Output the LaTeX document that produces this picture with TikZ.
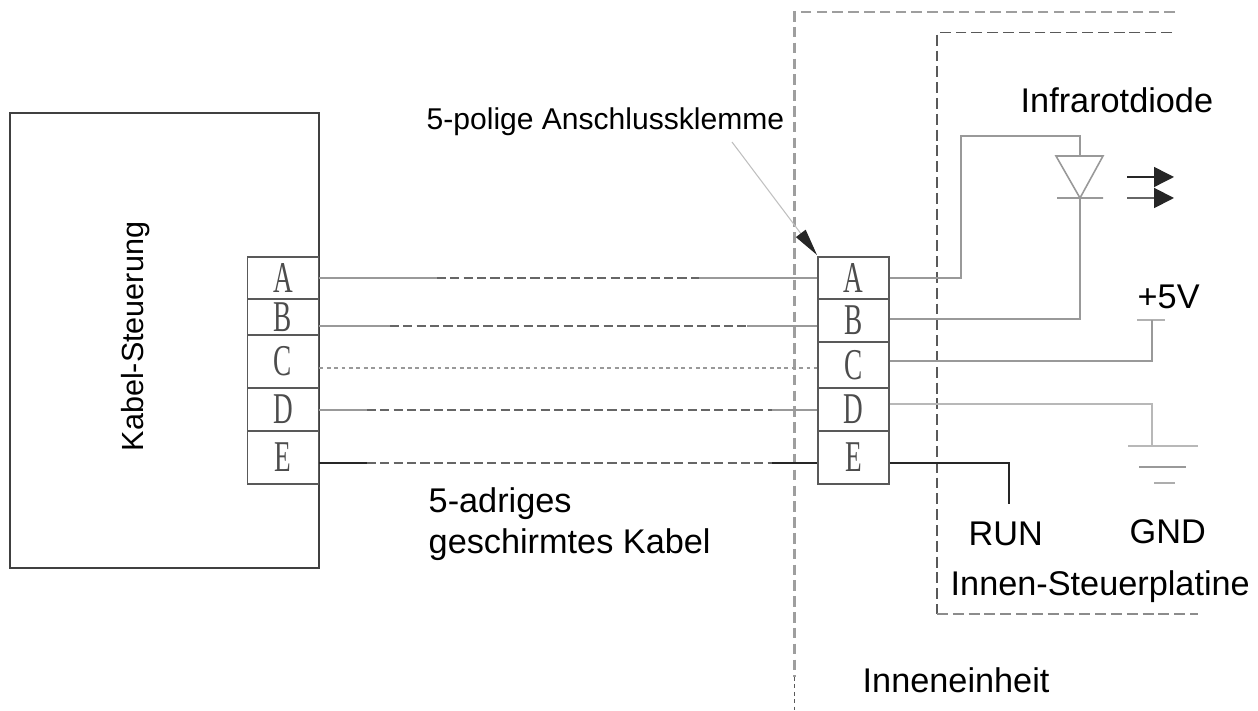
\documentclass[tikz,border=0pt]{standalone}
\usepackage{fontspec}
\setmainfont{Liberation Sans}
\newfontfamily\pinfont[FakeStretch=0.62]{Liberation Serif}
\usetikzlibrary{
    arrows.meta,
    calc,
    positioning
}
\tikzset{
    wire/.style={draw=black!40, line width=.45pt},
    darkwire/.style={draw=black!85, line width=.55pt},
    longdash/.style={draw=black!60, line width=.5pt, dash pattern=on 2.6pt off 1.2pt},
    shortdash/.style={draw=black!40, line width=.4pt, dash pattern=on 1.1pt off 1pt},
    outerframe/.style={draw=black!38, line width=.65pt, dash pattern=on 3pt off 1.5pt},
    innerframe/.style={draw=black!65, line width=.5pt, dash pattern=on 3.1pt off 1.4pt},
    cell/.style={draw=black!65, line width=.55pt, minimum width=.71cm, inner sep=0pt,
        font=\pinfont\fontsize{12.5}{13}\selectfont, text=black!70},
    caption/.style={inner sep=0pt, anchor=base west, font=\fontsize{9.75}{11}\selectfont}
}
\begin{document}
\begin{tikzpicture}
    \useasboundingbox (0, 0) rectangle (12.58, -7.11);
    % frames of the indoor unit and its board
    \coordinate (outerEnd) at (11.75, -0.12);
    \coordinate (outerMid) at (7.945, -6.77);
    \coordinate (outerLow) at (7.945, -7.11);
    \draw[outerframe] (outerEnd) -| (outerMid);
    \draw[shortdash, draw=black!65] (outerMid) -- (outerLow);
    \coordinate (innerEnd) at (11.72, -0.325);
    \coordinate (innerLow) at (9.37, -6.14);
    \coordinate (innerOut) at (11.98, -6.14);
    \draw[innerframe] (innerEnd) -| (innerLow);
    \draw[innerframe, draw=black!45] (innerLow) -- (innerOut);
    % controller
    \node[draw=black!75, line width=.55pt, minimum width=3.09cm, minimum height=4.55cm, inner sep=0pt] (ctrl) at (1.645, -3.405) {};
    \node[caption, rotate=90, font=\fontsize{8.7}{10}\selectfont] (ctrlText) at (1.43, -4.52) {Kabel-Steuerung};
    \node[cell, minimum height=.42cm] (ctrlA) at (2.83, -2.78) {A};
    \node[cell, minimum height=.36cm] (ctrlB) at (2.83, -3.17) {B};
    \node[cell, minimum height=.53cm] (ctrlC) at (2.83, -3.615) {C};
    \node[cell, minimum height=.43cm] (ctrlD) at (2.83, -4.095) {D};
    \node[cell, minimum height=.53cm] (ctrlE) at (2.83, -4.575) {E};
    % terminal block
    \node[cell, minimum height=.42cm] (portA) at (8.535, -2.78) {A};
    \node[cell, minimum height=.43cm] (portB) at (8.535, -3.205) {B};
    \node[cell, minimum height=.46cm] (portC) at (8.535, -3.65) {C};
    \node[cell, minimum height=.43cm] (portD) at (8.535, -4.095) {D};
    \node[cell, minimum height=.53cm] (portE) at (8.535, -4.575) {E};
    % cable
    \coordinate (lineB) at (0, -3.26);
    \coordinate (lineC) at (0, -3.68);
    \coordinate (lineD) at (0, -4.10);
    \coordinate (lineE) at (0, -4.63);
    \coordinate (breakAl) at (4.37, -2.78);
    \coordinate (breakAr) at (6.99, -2.78);
    \coordinate (breakBl) at (3.90, -3.26);
    \coordinate (breakBr) at (7.47, -3.26);
    \coordinate (breakDl) at (3.67, -4.10);
    \coordinate (breakDr) at (7.72, -4.10);
    \coordinate (breakEl) at (3.67, -4.63);
    \coordinate (breakEr) at (7.72, -4.63);
    \draw[wire]
    (ctrlA.east) -- (breakAl)
    (breakAr) -- (portA.west)
    (ctrlB.east |- lineB) -- (breakBl)
    (breakBr) -- (portB.west |- lineB)
    (ctrlD.east |- lineD) -- (breakDl)
    (breakDr) -- (portD.west |- lineD);
    \draw[darkwire]
    (ctrlE.east |- lineE) -- (breakEl)
    (breakEr) -- (portE.west |- lineE);
    \draw[longdash]
    (breakAl) -- (breakAr)
    (breakBl) -- (breakBr)
    (breakDl) -- (breakDr)
    (breakEl) -- (breakEr);
    \draw[shortdash] (ctrlC.east |- lineC) -- (portC.west |- lineC);
    % diode
    \coordinate (diodeL) at (10.56, -1.56);
    \coordinate (diodeR) at (11.03, -1.56);
    \coordinate (diodeTop) at (10.80, -1.56);
    \coordinate (diodeTip) at (10.80, -1.98);
    \coordinate (barL) at (10.57, -1.98);
    \coordinate (barR) at (11.03, -1.98);
    \coordinate (bendA) at (9.61, -1.36);
    \coordinate (bendB) at (10.80, -3.19);
    \draw[wire] (diodeL) -- (diodeR) -- (diodeTip) -- cycle (barL) -- (barR);
    \draw[wire] (portA.east) -| (bendA) -| (diodeTop);
    \draw[wire] (portB.east |- bendB) -- (bendB) -- (diodeTip);
    \coordinate (rayOneA) at (11.27, -1.77);
    \coordinate (rayOneB) at (11.74, -1.77);
    \coordinate (rayTwoA) at (11.27, -1.98);
    \coordinate (rayTwoB) at (11.74, -1.98);
    \draw[black!85, line width=.4pt, -{Triangle[length=.2cm, width=.2cm]}] (rayOneA) -- (rayOneB);
    \draw[black!60, line width=.55pt, -{Triangle[length=.2cm, width=.2cm, color=black!85]}] (rayTwoA) -- (rayTwoB);
    % supply and ground
    \coordinate (plusL) at (11.37, -3.20);
    \coordinate (plusR) at (11.65, -3.20);
    \coordinate (plusM) at (11.52, -3.20);
    \coordinate (lineCr) at (0, -3.61);
    \draw[wire, draw=black!30] (plusL) -- (plusR);
    \draw[wire] (portC.east |- lineCr) -| (plusM);
    \coordinate (lineDr) at (0, -4.04);
    \coordinate (gndTop) at (11.52, -4.46);
    \coordinate (gndOneL) at (11.28, -4.46);
    \coordinate (gndOneR) at (11.98, -4.46);
    \coordinate (gndTwoL) at (11.39, -4.67);
    \coordinate (gndTwoR) at (11.86, -4.67);
    \coordinate (gndThreeL) at (11.54, -4.83);
    \coordinate (gndThreeR) at (11.75, -4.83);
    \draw[wire, draw=black!28] (portD.east |- lineDr) -| (gndTop);
    \draw[wire, draw=black!28] (gndOneL) -- (gndOneR);
    \draw[wire] (gndTwoL) -- (gndTwoR);
    \draw[wire, draw=black!32] (gndThreeL) -- (gndThreeR);
    % run line
    \coordinate (runEnd) at (10.09, -5.04);
    \draw[darkwire] (portE.east |- lineE) -| (runEnd);
    % texts
    \node[caption, font=\fontsize{8.55}{10}\selectfont] (termText) at (4.26, -1.30) {5-polige Anschlussklemme};
    \coordinate (leaderStart) at (7.32, -1.42);
    \coordinate (leaderTip) at (8.17, -2.55);
    \draw[black!25, line width=.3pt, -{Triangle[length=.27cm, width=.12cm, color=black!85]}] (leaderStart) -- (leaderTip);
    \node[caption] (cableOne) at (4.28, -5.13) {5-adriges};
    \node[caption] (cableTwo) at (4.28, -5.54) {geschirmtes Kabel};
    \node[caption] (irText) at (10.20, -1.13) {Infrarotdiode};
    \node[caption] (plusText) at (11.37, -3.09) {+5V};
    \node[caption] (runText) at (9.68, -5.46) {RUN};
    \node[caption] (gndText) at (11.29, -5.44) {GND};
    \node[caption] (boardText) at (9.50, -5.96) {Innen-Steuerplatine};
    \node[caption] (unitText) at (8.62, -6.93) {Inneneinheit};
\end{tikzpicture}
\end{document}
